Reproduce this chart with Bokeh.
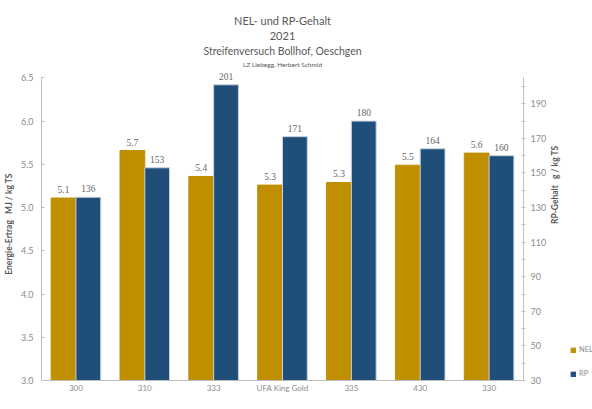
import math
from bokeh.plotting import figure
from bokeh.layouts import row
from bokeh.models import (ColumnDataSource, Range1d, LinearAxis, FactorRange,
                          FixedTicker, LabelSet, Legend, LegendItem, Title,
                          NumeralTickFormatter)
from bokeh.transform import dodge
from bokeh.embed import file_html
from bokeh.resources import INLINE

# ---- data ----
categories = ["300", "310", "333", "UFA King Gold", "335", "430", "330"]
nel_values = [5.11, 5.66, 5.36, 5.26, 5.29, 5.49, 5.63]
rp_values = [136, 153, 201, 171, 180, 164, 160]
nel_ticks = [3.0, 3.5, 4.0, 4.5, 5.0, 5.5, 6.0, 6.5]
rp_ticks = [30, 40, 50, 60, 70, 80, 90, 100, 110, 120, 130, 140, 150, 160, 170, 180, 190, 200]
rp_labeled = [30, 50, 70, 90, 110, 130, 150, 170, 190]
nel_axis = (3.0, 6.5)
rp_axis = (30, 205)
titles = ["NEL- und RP-Gehalt", "2021", "Streifenversuch Bollhof, Oeschgen",
          "LZ Liebegg, Herbert Schmid"]
series_names = ["NEL", "RP"]
y_label_left = "Energie-Ertrag\u00a0\u00a0\u00a0MJ / kg TS"
y_label_right = "RP-Gehalt\u00a0\u00a0\u00a0g / kg TS"

FONT = "Lato"
GOLD = "#BF8F00"
BLUE = "#1F4E79"
AXIS = "#BFBFBF"
TICKTXT = "#8C8C8C"
TXT = "#595959"

src = ColumnDataSource(dict(
    cat=categories,
    nel=nel_values,
    rp=rp_values,
    nel_lbl=[f"{v:.1f}" for v in nel_values],
    rp_lbl=[str(v) for v in rp_values],
))

# a little head-room above the axis ends so the top data label is not clipped
HEAD = 0.12
p = figure(x_range=FactorRange(*categories),
           y_range=Range1d(nel_axis[0], nel_axis[1] + HEAD),
           frame_width=482, frame_height=313, output_backend="svg",
           toolbar_location=None,
           min_border_left=35, min_border_right=40, min_border_top=67,
           min_border_bottom=11, outline_line_color=None)
scale = (rp_axis[1] - rp_axis[0]) / (nel_axis[1] - nel_axis[0])
p.extra_y_ranges = {"rp": Range1d(rp_axis[0], rp_axis[1] + HEAD * scale)}
p.xgrid.grid_line_color = None
p.ygrid.grid_line_color = None

# left axis
ya = p.yaxis[0]
ya.bounds = nel_axis
ya.ticker = FixedTicker(ticks=nel_ticks)
ya.formatter = NumeralTickFormatter(format="0.0")
ya.axis_line_color = AXIS
ya.major_tick_line_color = AXIS
ya.major_tick_in = 3
ya.major_tick_out = 0
ya.minor_tick_line_color = None
ya.major_label_text_font = FONT
ya.major_label_text_font_size = "9px"
ya.major_label_text_color = TICKTXT
ya.major_label_standoff = 8
ya.axis_label = y_label_left
ya.axis_label_text_font = FONT
ya.axis_label_text_font_size = "8.5px"
ya.axis_label_text_font_style = "bold"
ya.axis_label_text_color = TXT
ya.axis_label_standoff = 4

# right axis
ra = LinearAxis(y_range_name="rp", ticker=FixedTicker(ticks=rp_ticks), bounds=rp_axis,
                major_label_overrides={t: "" for t in rp_ticks if t not in rp_labeled})
ra.axis_line_color = AXIS
ra.major_tick_line_color = AXIS
ra.major_tick_in = 2
ra.major_tick_out = 2
ra.minor_tick_line_color = None
ra.major_label_text_font = FONT
ra.major_label_text_font_size = "9px"
ra.major_label_text_color = TICKTXT
ra.major_label_standoff = 5
ra.axis_label = y_label_right
ra.axis_label_orientation = math.pi / 2
ra.axis_label_text_font = FONT
ra.axis_label_text_font_size = "8.5px"
ra.axis_label_text_font_style = "bold"
ra.axis_label_text_color = TXT
ra.axis_label_standoff = 6
p.add_layout(ra, "right")

# x axis
xa = p.xaxis[0]
xa.axis_line_color = AXIS
xa.major_tick_line_color = None
xa.major_tick_in = 0
xa.major_tick_out = 0
xa.minor_tick_line_color = None
xa.major_label_text_font = FONT
xa.major_label_text_font_size = "8px"
xa.major_label_text_color = TICKTXT
xa.major_label_standoff = 2

# bars
r_nel = p.vbar(x=dodge("cat", -0.18, range=p.x_range), top="nel", bottom=nel_axis[0],
               width=0.36, source=src, fill_color=GOLD, line_color=GOLD)
r_rp = p.vbar(x=dodge("cat", 0.18, range=p.x_range), top="rp", bottom=rp_axis[0],
              width=0.36, source=src, fill_color=BLUE, line_color="#C5D3E2",
              line_width=1, y_range_name="rp")

# data labels
p.add_layout(LabelSet(x=dodge("cat", -0.18, range=p.x_range), y="nel", text="nel_lbl",
                      source=src, y_offset=5, text_align="center",
                      text_baseline="bottom", text_font=FONT,
                      text_font_size="9.5px", text_color="#666666"))
p.add_layout(LabelSet(x=dodge("cat", 0.18, range=p.x_range), y="rp", text="rp_lbl",
                      source=src, y_offset=5, text_align="center",
                      text_baseline="bottom", text_font=FONT,
                      text_font_size="9.5px", text_color="#666666",
                      y_range_name="rp"))

# titles (added from the plot outward)
title_sizes = ["11px", "11px", "10.5px", "6.5px"]
title_standoffs = [3, 3, 2.5, 0]
for t, fs, so in reversed(list(zip(titles, title_sizes, title_standoffs))):
    p.add_layout(Title(text=t, align="center", offset=-78, standoff=so,
                       text_font=FONT, text_font_size=fs, text_font_style="normal",
                       text_color=TXT), "above")

# legend in a narrow companion figure to the right (keys use the same data,
# collapsed to zero size outside the view, so only the legend swatches show)
lg = figure(width=24, height=393, output_backend="svg", toolbar_location=None,
            x_range=Range1d(0, 1), y_range=Range1d(0, 1), min_border=0,
            x_axis_location=None, y_axis_location=None,
            outline_line_color=None)
lg.grid.visible = False
k_nel = lg.vbar(x="nel", top="nel", bottom="nel", width=0.0, source=src,
                fill_color=GOLD, line_color=GOLD)
k_rp = lg.vbar(x="rp", top="rp", bottom="rp", width=0.0, source=src,
               fill_color=BLUE, line_color=BLUE)
legend = Legend(items=[LegendItem(label=series_names[0], renderers=[k_nel]),
                       LegendItem(label=series_names[1], renderers=[k_rp])],
                location=(2, 0), orientation="vertical",
                glyph_width=6, glyph_height=6, label_height=8, label_width=10,
                label_standoff=3, spacing=15, padding=0, margin=0,
                border_line_color=None, background_fill_alpha=0,
                label_text_font=FONT, label_text_font_size="7.5px",
                label_text_color=TICKTXT)
lg.add_layout(legend)

layout = row(p, lg, spacing=0)
open("out.html", "w").write(file_html(layout, INLINE))
